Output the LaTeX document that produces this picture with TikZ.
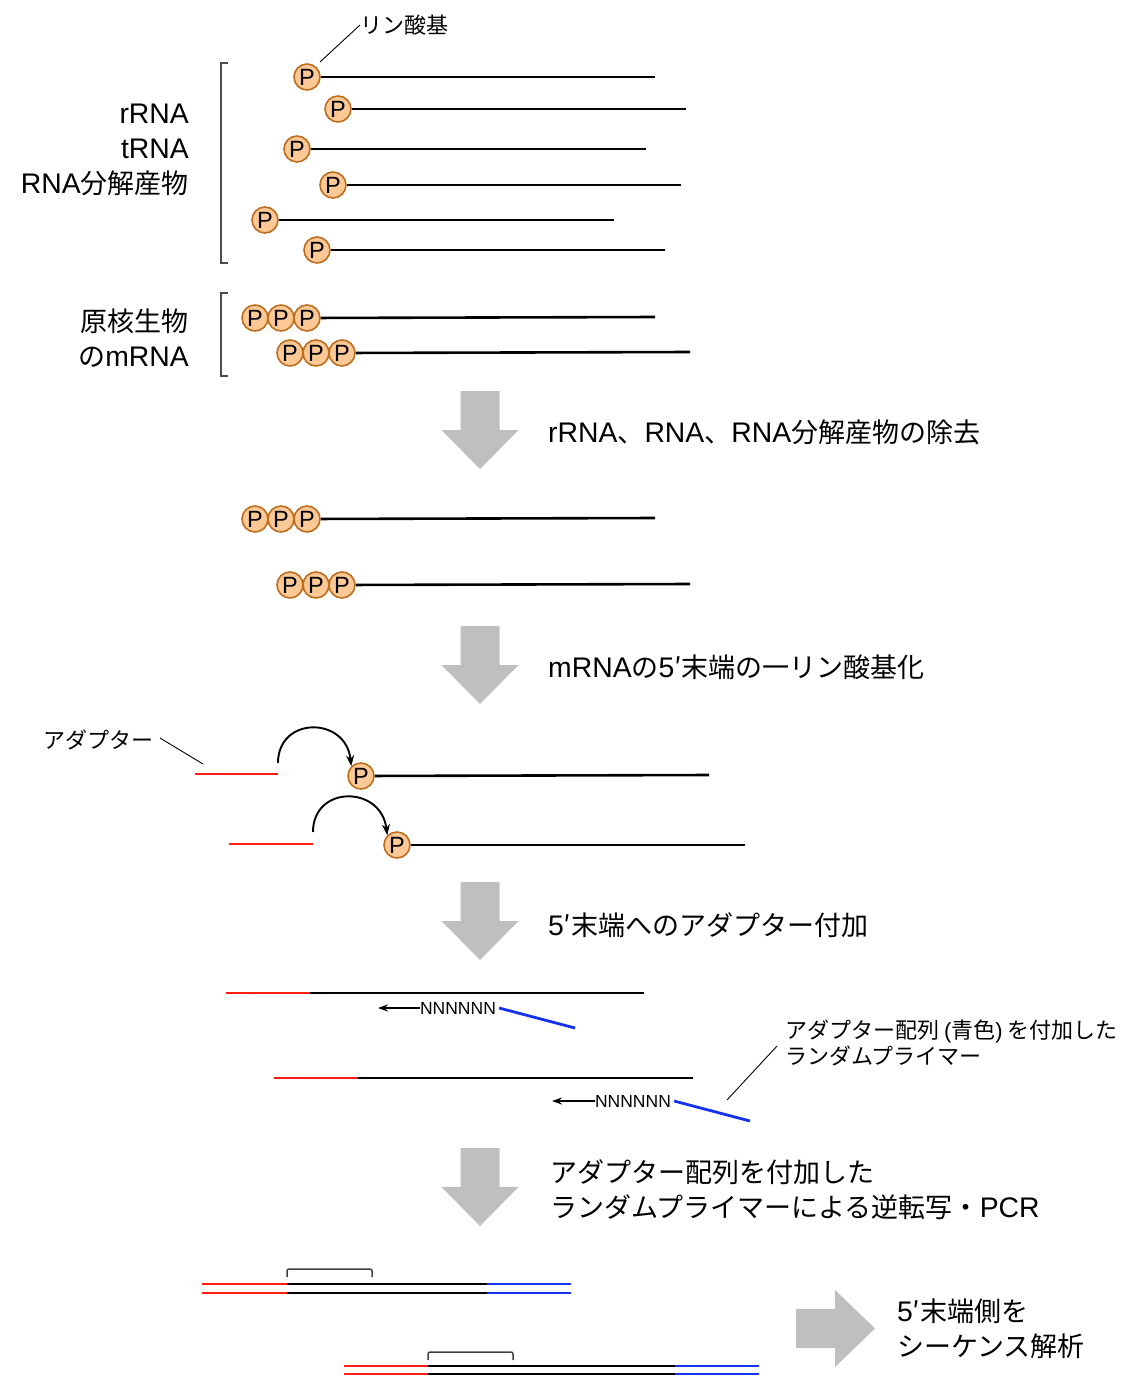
\documentclass[tikz,border=0pt]{standalone}
\usepackage{fontspec}
\setmainfont{Noto Sans CJK JP}
\newfontfamily\lat{Liberation Sans}[Scale=1.05]
\newfontfamily\platin{Liberation Sans}
\usetikzlibrary{arrows.meta}
\definecolor{pfill}{RGB}{251,200,150}
\definecolor{pedge}{RGB}{190,110,30}
\definecolor{agray}{RGB}{191,191,191}
\definecolor{dred}{RGB}{255,30,20}
\definecolor{dblue}{RGB}{20,50,240}
\begin{document}
\begin{tikzpicture}[x=1pt,y=-1pt,
 pc/.style={circle,draw=pedge,fill=pfill,line width=1.6pt,minimum size=26pt,inner sep=0pt,font=\platin\fontsize{23.5}{23.5}\selectfont},
 strand/.style={line width=2.6pt,black},
 rstrand/.style={line width=2.8pt,dred},
 bstrand/.style={line width=2.8pt,dblue},
 big/.style={font=\fontsize{27}{35}\selectfont,inner sep=0pt},
 small/.style={font=\fontsize{22}{26}\selectfont,inner sep=0pt},
 tinytext/.style={font=\platin\fontsize{17.5}{17.5}\selectfont,inner sep=0pt},
 leader/.style={line width=0.9pt,black},
 grpbrk/.style={line width=1.2pt,black!70},
 topbrk/.style={line width=1.5pt,black!75,rounded corners=2pt},
 curvy/.style={line width=1.9pt,black,-{Stealth[length=11pt,width=8pt]}},
 primerarrow/.style={line width=1.8pt,black,-{Stealth[length=10pt,width=7pt]}},
 darrow/.pic={\fill[agray] (-19.5,0) -- (19.5,0) -- (19.5,39) -- (38.5,39) -- (0,78) -- (-38.5,39) -- (-19.5,39) -- cycle;},
 rarrow/.pic={\fill[agray] (0,-19.5) -- (39,-19.5) -- (39,-38.5) -- (79,0) -- (39,38.5) -- (39,19.5) -- (0,19.5) -- cycle;},
]
\useasboundingbox (0,0) rectangle (1123,1376);

% ---------- group 1
\draw[grpbrk] (228,63) -- (221,63) -- (221,263) -- (228,263);
\node[big,anchor=east,align=right] (g1) at (189,150) {{\lat rRNA}\\{\lat tRNA}\\{\lat RNA}分解産物};

\node[pc] (p1) at (307,77) {P};  \coordinate (e1) at (655,77);  \draw[strand] (p1) -- (e1);
\node[pc] (p2) at (338,109) {P}; \coordinate (e2) at (686,109); \draw[strand] (p2) -- (e2);
\node[pc] (p3) at (297,149) {P}; \coordinate (e3) at (646,149); \draw[strand] (p3) -- (e3);
\node[pc] (p4) at (333,185) {P}; \coordinate (e4) at (681,185); \draw[strand] (p4) -- (e4);
\node[pc] (p5) at (265,220) {P}; \coordinate (e5) at (614,220); \draw[strand] (p5) -- (e5);
\node[pc] (p6) at (317,250) {P}; \coordinate (e6) at (665,250); \draw[strand] (p6) -- (e6);

\node[small,anchor=west] (lab1) at (360,25) {リン酸基};
\coordinate (lp) at (320,62);
\draw[leader] (lp) -- (lab1.west);

% ---------- group 2
\draw[grpbrk] (228,293) -- (221,293) -- (221,376) -- (228,376);
\node[big,anchor=east,align=right] (g2) at (189,338.5) {原核生物\\の{\lat mRNA}};

\node[pc] (a1) at (255,318) {P}; \node[pc] (a2) at (281,318) {P}; \node[pc] (a3) at (307,318) {P};
\coordinate (ea) at (655,317); \draw[strand] (a3) -- (ea);
\node[pc] (b1) at (290,353) {P}; \node[pc] (b2) at (316,353) {P}; \node[pc] (b3) at (342,353) {P};
\coordinate (eb) at (690,352); \draw[strand] (b3) -- (eb);

% ---------- step 1
\pic at (480,391) {darrow};
\node[big,anchor=west] (s1) at (548,432) {{\lat rRNA}、{\lat RNA}、{\lat RNA}分解産物の除去};

\node[pc] (c1) at (255,519) {P}; \node[pc] (c2) at (281,519) {P}; \node[pc] (c3) at (307,519) {P};
\coordinate (ec) at (655,518); \draw[strand] (c3) -- (ec);
\node[pc] (d1) at (290,585) {P}; \node[pc] (d2) at (316,585) {P}; \node[pc] (d3) at (342,585) {P};
\coordinate (ed) at (690,584); \draw[strand] (d3) -- (ed);

% ---------- step 2
\pic at (480,626) {darrow};
\node[big,anchor=west] (s2) at (548,667) {{\lat mRNA}の{\lat 5}′末端の一リン酸基化};

\node[small,anchor=west] (lab2) at (43,740) {アダプター};
\coordinate (ad1) at (160,738); \coordinate (ad2) at (203,764);
\draw[leader] (ad1) -- (ad2);

\coordinate (r1s) at (195,774); \coordinate (r1e) at (278,774);
\draw[rstrand] (r1s) -- (r1e);
\node[pc] (q1) at (361,776) {P}; \coordinate (eq1) at (709,775); \draw[strand] (q1) -- (eq1);
\coordinate (k1) at (278,763);
\draw[curvy] (k1) .. controls (278,716) and (346,716) .. (q1.north west);

\coordinate (r2s) at (229,844); \coordinate (r2e) at (313,844);
\draw[rstrand] (r2s) -- (r2e);
\node[pc] (q2) at (397,845) {P}; \coordinate (eq2) at (745,845); \draw[strand] (q2) -- (eq2);
\coordinate (k2) at (313,832);
\draw[curvy] (k2) .. controls (313,785) and (381,785) .. (q2.north west);

% ---------- step 3
\pic at (480,882) {darrow};
\node[big,anchor=west] (s3) at (548,925) {{\lat 5}′末端へのアダプター付加};

\coordinate (u1a) at (226,993); \coordinate (u1b) at (310,993); \coordinate (u1c) at (644,993);
\draw[rstrand] (u1a) -- (u1b); \draw[strand] (u1b) -- (u1c);
\node[tinytext] (n1) at (458,1008) {NNNNNN};
\coordinate (n1t) at (378,1008); \coordinate (n1b) at (575,1028);
\draw[primerarrow] (n1.west) -- (n1t);
\draw[bstrand] ([xshift=3pt]n1.east) -- (n1b);

\coordinate (u2a) at (274,1078); \coordinate (u2b) at (358,1078); \coordinate (u2c) at (693,1078);
\draw[rstrand] (u2a) -- (u2b); \draw[strand] (u2b) -- (u2c);
\node[tinytext] (n2) at (633,1101) {NNNNNN};
\coordinate (n2t) at (552,1101); \coordinate (n2b) at (750,1121);
\draw[primerarrow] (n2.west) -- (n2t);
\draw[bstrand] ([xshift=3pt]n2.east) -- (n2b);

\node[small,anchor=west,align=left] (lab3) at (785,1043) {アダプター配列 {\platin(}青色{\platin)} を付加した\\ランダムプライマー};
\coordinate (pl1) at (727,1100); \coordinate (pl2) at (777,1046);
\draw[leader] (pl1) -- (pl2);

% ---------- step 4
\pic at (480,1148) {darrow};
\node[big,anchor=west,align=left] (s4) at (550,1190) {アダプター配列を付加した\\ランダムプライマーによる逆転写・{\lat PCR}};

% final products
\foreach \yy in {1284,1293}{
  \draw[rstrand] (202,\yy) -- (287,\yy);
  \draw[strand] (287,\yy) -- (487,\yy);
  \draw[bstrand] (487,\yy) -- (571,\yy);
}
\draw[topbrk] (287,1277) -- (287,1269) -- (372,1269) -- (372,1277);

\foreach \yy in {1366,1374}{
  \draw[rstrand] (344,\yy) -- (428,\yy);
  \draw[strand] (428,\yy) -- (675,\yy);
  \draw[bstrand] (675,\yy) -- (759,\yy);
}
\draw[topbrk] (428,1360) -- (428,1352) -- (513,1352) -- (513,1360);

\pic at (796,1328.5) {rarrow};
\node[big,anchor=west,align=left] (s5) at (897,1329) {{\lat 5}′末端側を\\シーケンス解析};
\end{tikzpicture}
\end{document}
